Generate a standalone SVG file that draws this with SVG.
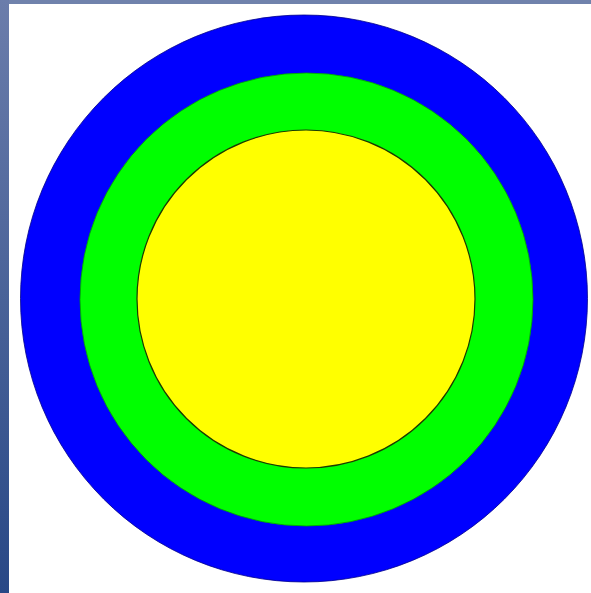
<svg xmlns="http://www.w3.org/2000/svg" width="591" height="593" viewBox="0 0 591 593">
<defs>
<linearGradient id="side" x1="0" y1="0" x2="0" y2="1">
<stop offset="0" stop-color="#6b7dab"/>
<stop offset="1" stop-color="#284886"/>
</linearGradient>
<style>
.ring{stroke:#00008a;stroke-width:0.8}
</style>
</defs>
<rect width="591" height="593" fill="#ffffff"/>
<rect x="0" y="0" width="591" height="4" fill="#7082ac"/>
<rect x="0" y="0" width="9" height="593" fill="url(#side)"/>
<g id="outer"><circle class="ring" cx="304" cy="298.5" r="283.5" fill="#0000ff"/></g>
<g id="middle"><circle cx="306.5" cy="299.5" r="226.5" fill="#00ff00" stroke="#00a000" stroke-width="0.8"/></g>
<g id="inner"><circle cx="306" cy="299" r="169" fill="#ffff00" stroke="#1a3a00" stroke-width="1.2"/></g>
</svg>
